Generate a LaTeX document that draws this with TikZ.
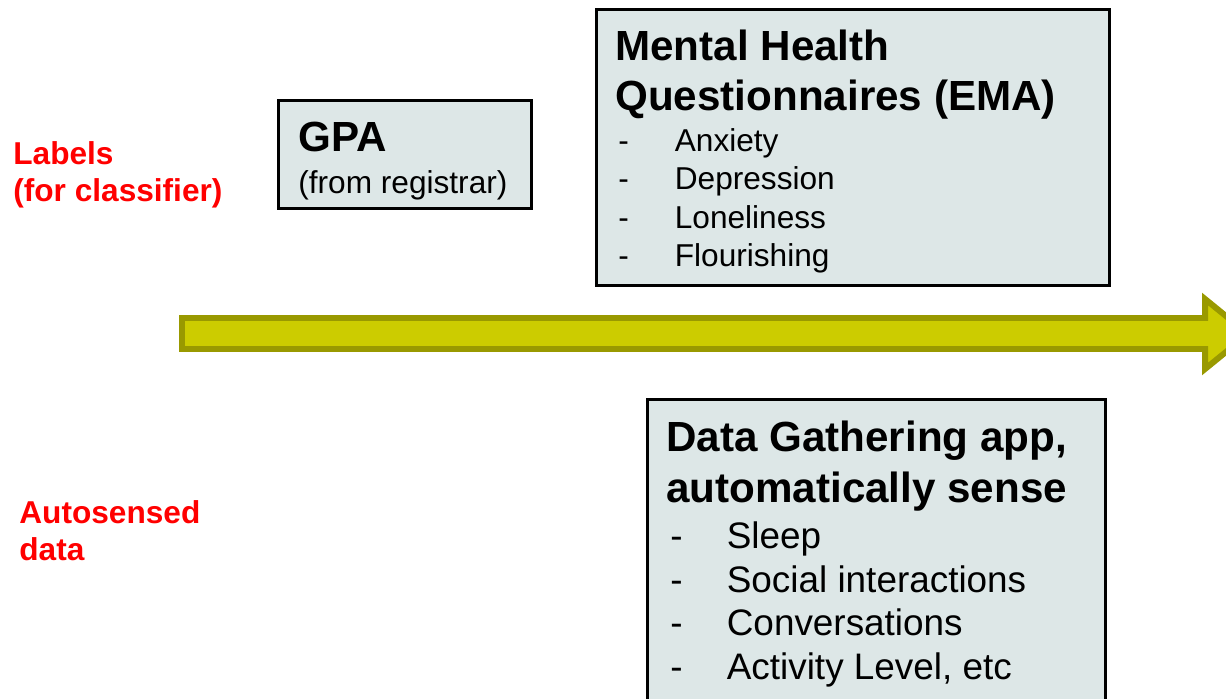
\documentclass[tikz,border=0pt]{standalone}
\usepackage{fontspec}
\setmainfont{Liberation Sans}
\usetikzlibrary{positioning}
\definecolor{boxfill}{RGB}{221,231,231}
\definecolor{arrowfill}{RGB}{204,204,0}
\definecolor{arrowedge}{RGB}{153,153,0}
\newcommand{\dashitem}[1]{\makebox[1.13cm][l]{-}#1}

\begin{document}
\begin{tikzpicture}[x=0.02cm,y=-0.02cm,
                    box/.style={draw=black,fill=boxfill,line width=1.7pt},
                    headtext/.style={anchor=north west,inner sep=0pt,align=left,
                        font=\bfseries\fontsize{24}{28.6}\selectfont},
                    listtext/.style={anchor=north west,inner sep=0pt,align=left},
                    redtext/.style={anchor=north west,inner sep=0pt,align=left,text=red,
                        font=\bfseries\fontsize{18}{21}\selectfont}]
                        \useasboundingbox (0,0) rectangle (1226,699);
                        % time line
                        \draw[fill=arrowfill,draw=arrowedge,line width=3.4pt]
                            (182,318) -- (1205,318) -- (1205,299) -- (1248,334)
                            -- (1205,369) -- (1205,349) -- (182,349) -- cycle;
                        % labels
                        \draw[box] (278.5,100.5) rectangle (531.5,208.5);
                        \node[headtext] (gpa) at (298,122) {GPA};
                        \node[listtext,font=\fontsize{18}{21}\selectfont] (registrar) at (298,170) {(from registrar)};
                        \draw[box] (596.5,9.5) rectangle (1109.5,285.5);
                        \node[headtext] (ema) at (615,29.5) {Mental Health\\Questionnaires (EMA)};
                        \node[listtext,font=\fontsize{18}{21.9}\selectfont] (emalist) at (618,128)
                            {\dashitem{Anxiety}\\\dashitem{Depression}\\\dashitem{Loneliness}\\\dashitem{Flourishing}};
                        % sensed data
                        \draw[box] (647.5,399.5) rectangle (1105.5,720);
                        \node[headtext] (app) at (666,421) {Data Gathering app,\\automatically sense};
                        \node[listtext,font=\fontsize{21}{25}\selectfont] (applist) at (670,521)
                            {\dashitem{Sleep}\\\dashitem{Social interactions}\\\dashitem{Conversations}\\\dashitem{Activity Level, etc}};
                        % row names
                        \node[redtext] (labels) at (13,141) {Labels\\(for classifier)};
                        \node[redtext] (autosensed) at (19,500) {Autosensed\\data};
                    \end{tikzpicture}
\end{document}
